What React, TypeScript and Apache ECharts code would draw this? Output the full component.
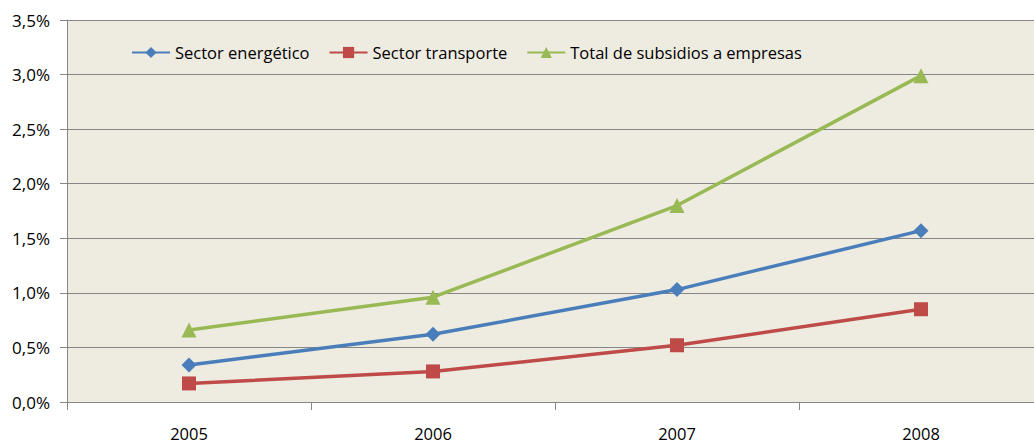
import React, { useEffect, useRef } from "react";
import * as echarts from "echarts";

const years = ["2005", "2006", "2007", "2008"];
const energetico = [0.34, 0.62, 1.03, 1.57];
const transporte = [0.17, 0.28, 0.52, 0.85];
const total = [0.66, 0.96, 1.8, 2.99];
const seriesNames = ["Sector energético", "Sector transporte", "Total de subsidios a empresas"];

const FONT = "'Open Sans', 'Noto Sans', sans-serif";

export default function App() {
  const ref = useRef<HTMLDivElement>(null);
  useEffect(() => {
    if (!ref.current) return;
    const chart = echarts.init(ref.current, null, { renderer: "svg" });
    const mk = (name: string, data: number[], color: string, symbol: string, size: number) => ({
      name,
      type: "line",
      data,
      symbol,
      symbolSize: size,
      lineStyle: { color, width: 3.5 },
      itemStyle: { color },
    });
    chart.setOption({
      animation: false,
      backgroundColor: "#ffffff",
      textStyle: { fontFamily: FONT },
      grid: {
        left: 67,
        top: 20,
        width: 976,
        bottom: 43,
        outerBoundsMode: "none",
        containLabel: false,
        show: true,
        backgroundColor: "#EEEBE0",
        borderWidth: 0,
      },
      legend: {
        top: 44,
        left: 131,
        padding: 0,
        itemWidth: 38,
        itemHeight: 14,
        itemGap: 19,
        textStyle: { fontSize: 16.5, color: "#000", fontFamily: FONT },
        data: seriesNames,
      },
      xAxis: {
        type: "category",
        data: years,
        boundaryGap: true,
        axisLine: { show: true, lineStyle: { color: "#868686", width: 1 } },
        axisTick: { show: true, length: 8, interval: 0, lineStyle: { color: "#868686" } },
        axisLabel: { fontSize: 16.5, lineHeight: 16, color: "#000", margin: 23, fontFamily: FONT },
        splitLine: { show: false },
      },
      yAxis: {
        type: "value",
        min: 0,
        max: 3.5,
        interval: 0.5,
        axisLine: { show: true, lineStyle: { color: "#868686", width: 1 } },
        axisTick: { show: true, length: 7, lineStyle: { color: "#868686" } },
        axisLabel: {
          fontSize: 17,
          color: "#000",
          margin: 17,
          fontFamily: FONT,
          formatter: (v: number) => v.toFixed(1).replace(".", ",") + "%",
        },
        splitLine: { show: true, lineStyle: { color: "#868686", width: 1 } },
      },
      series: [
        mk(seriesNames[0], energetico, "#4A7EBB", "diamond", 15),
        mk(seriesNames[1], transporte, "#BE4B48", "rect", 14),
        mk(seriesNames[2], total, "#98B954", "triangle", 15),
      ],
    });
    return () => chart.dispose();
  }, []);
  return (
    <div
      ref={ref}
      style={{ position: "fixed", left: 0, top: 0, width: 1034, height: 445 }}
    />
  );
}
